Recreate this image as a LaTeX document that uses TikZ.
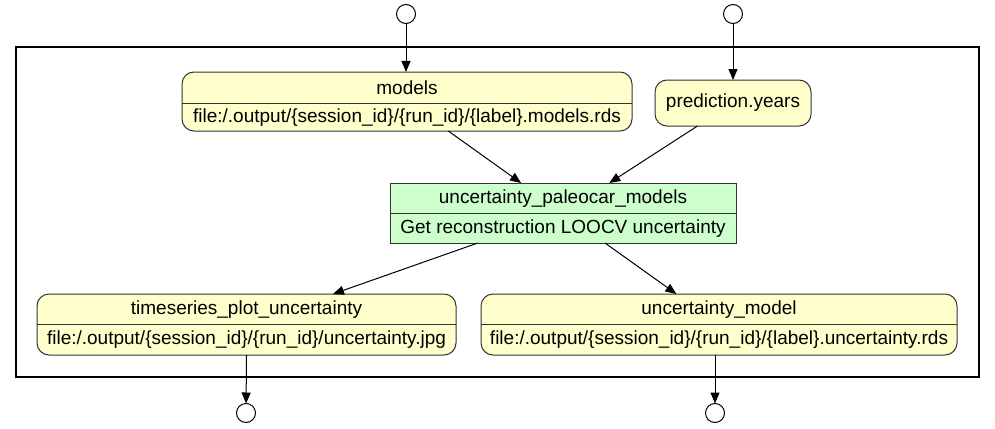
\documentclass[tikz,border=0pt]{standalone}
\usepackage{fontspec}
\setmainfont{Liberation Sans}
\usetikzlibrary{arrows.meta}
\definecolor{nodeyellow}{HTML}{FFFFCC}
\definecolor{nodegreen}{HTML}{CCFFCC}
\definecolor{borderc}{HTML}{333333}
\begin{document}
\begin{tikzpicture}[x=1pt,y=-1pt,
  every node/.style={font=\fontsize{19}{21}\selectfont, inner sep=0pt, outer sep=0pt},
  databox/.style={draw=borderc, fill=nodeyellow, rounded corners=12pt, line width=1pt},
  stepbox/.style={draw=borderc, fill=nodegreen, line width=1pt},
  port/.style={draw=black, fill=white, circle, minimum size=19pt, line width=1pt},
  edge/.style={draw=black, line width=1pt, -{Triangle[length=11pt,width=9pt]}},
  divline/.style={draw=borderc, line width=1pt}
]
\useasboundingbox (0,0) rectangle (995,428);
\draw[line width=2pt] (16,47) rectangle (979,377);

% ports
\node[port] (in1) at (406,14) {};
\node[port] (in2) at (733,14) {};
\node[port] (out1) at (246,413) {};
\node[port] (out2) at (715,413) {};

% models
\node[databox, minimum width=450pt, minimum height=59pt] (models) at (407,101.5) {};
\draw[divline] (models.west |- 0,103) -- (models.east |- 0,103);
\node (modelsT) at (407,88) {models};
\node (modelsF) at (407,118) {file:/.output/\{session\_id\}/\{run\_id\}/\{label\}.models.rds};

% prediction.years
\node[databox, minimum width=156pt, minimum height=46pt] (pred) at (733,103) {};
\node (predT) at (733,103) {prediction.years};

% step
\node[stepbox, minimum width=346pt, minimum height=60pt] (step) at (563,213) {};
\draw[divline] (step.west |- 0,213) -- (step.east |- 0,213);
\node (stepT) at (563,198.5) {uncertainty\_paleocar\_models};
\node (stepD) at (563,228.5) {Get reconstruction LOOCV uncertainty};

% timeseries
\node[databox, minimum width=419pt, minimum height=61pt] (ts) at (246.5,324.5) {};
\draw[divline] (ts.west |- 0,324) -- (ts.east |- 0,324);
\node (tsT) at (246.5,309.5) {timeseries\_plot\_uncertainty};
\node (tsF) at (246.5,340) {file:/.output/\{session\_id\}/\{run\_id\}/uncertainty.jpg};

% uncertainty_model
\node[databox, minimum width=476pt, minimum height=61pt] (um) at (719,324.5) {};
\draw[divline] (um.west |- 0,324) -- (um.east |- 0,324);
\node (umT) at (719,309.5) {uncertainty\_model};
\node (umF) at (719,340) {file:/.output/\{session\_id\}/\{run\_id\}/\{label\}.uncertainty.rds};

% edges
\draw[edge] (in1) -- (in1 |- models.north);
\draw[edge] (in2) -- (in2 |- pred.north);
\draw[edge] (models) -- (step);
\draw[edge] (pred) -- (step);
\draw[edge] (step) -- (ts);
\draw[edge] (step) -- (um);
\draw[edge] (ts.south) -- (out1);
\draw[edge] (um.south -| out2) -- (out2);
\end{tikzpicture}
\end{document}
